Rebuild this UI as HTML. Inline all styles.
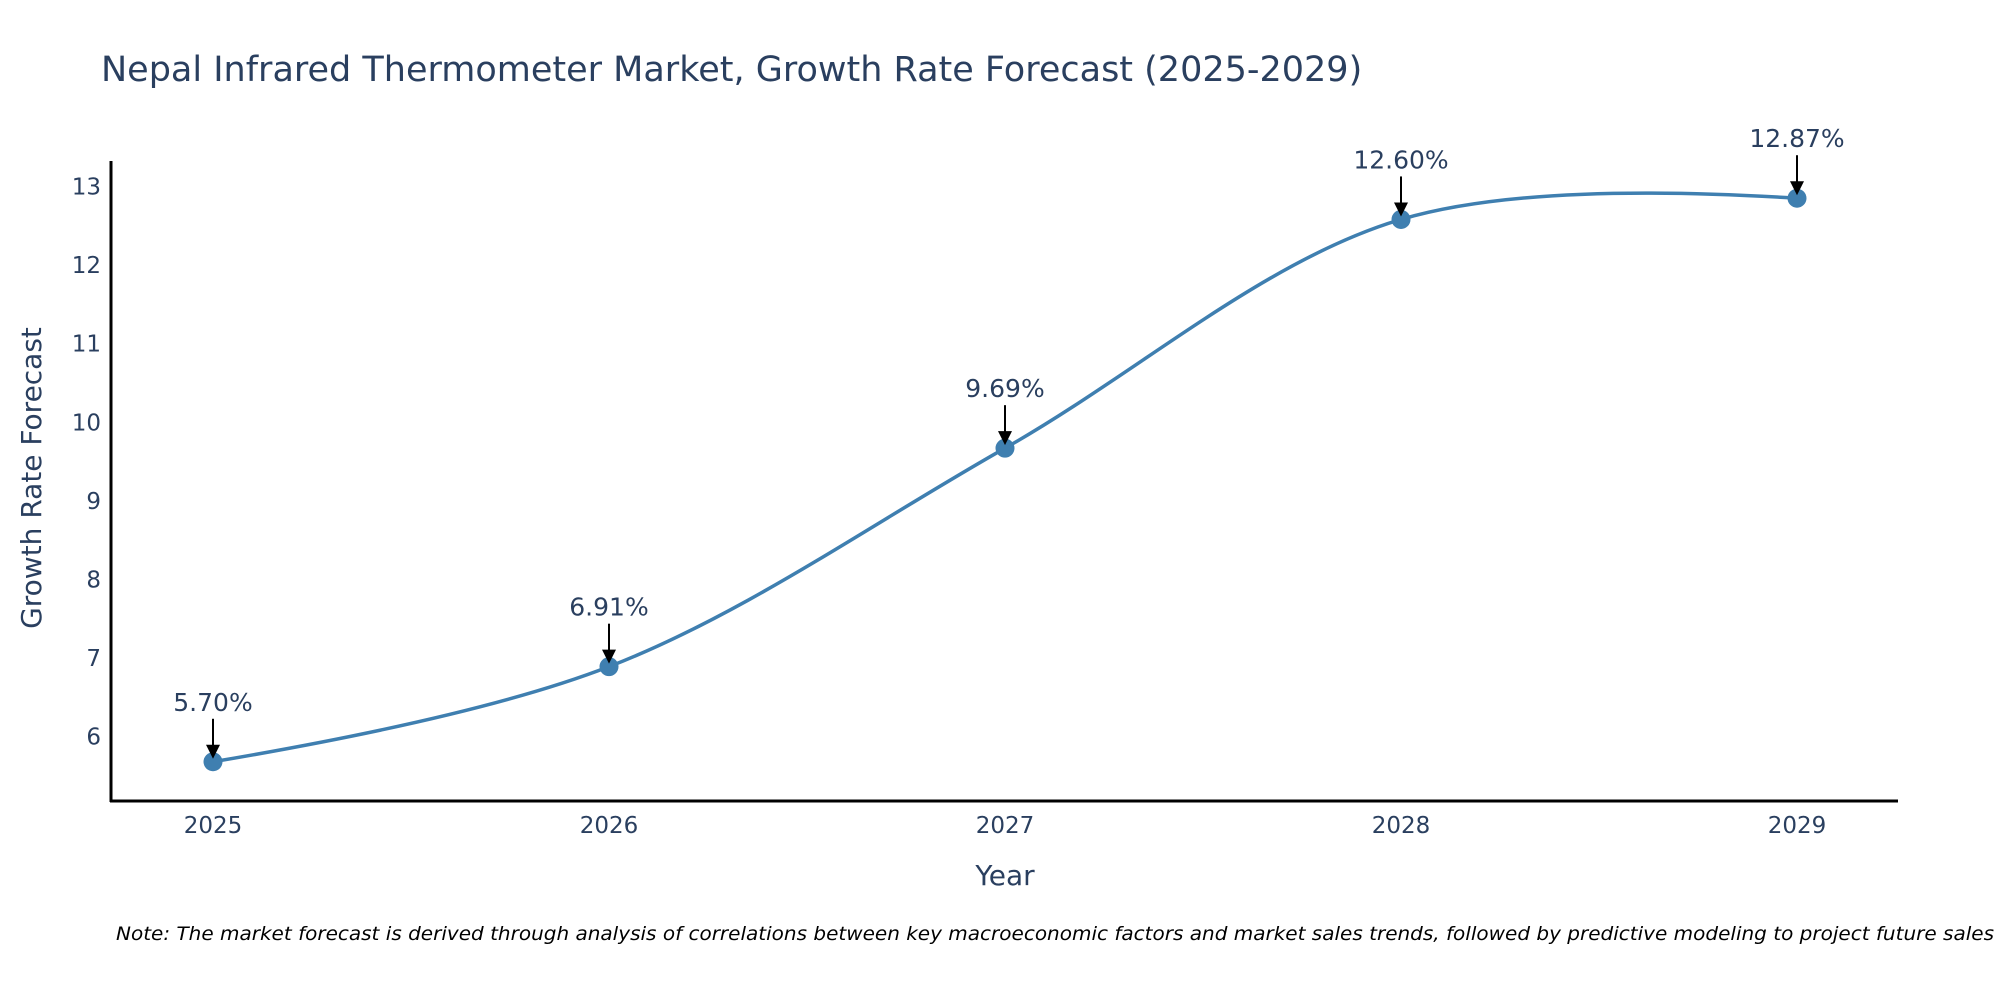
<!DOCTYPE html>
<html><head><meta charset="utf-8"><style>
html,body{margin:0;padding:0;background:#fff;}
svg{display:block;font-family:"DejaVu Sans","Liberation Sans",sans-serif;}
</style></head><body>
<svg id="chart" width="2000" height="1000" viewBox="0 0 2000 1000">
<text x="101" y="81" font-size="35" fill="#2a3f5f">Nepal Infrared Thermometer Market, Growth Rate Forecast (2025-2029)</text>
<g id="axes"></g>
<g id="plot"></g>
<text x="33" y="478" font-size="28" fill="#2a3f5f" text-anchor="middle" dominant-baseline="middle" transform="rotate(-90 33 478)">Growth Rate Forecast</text>
<text x="1005" y="885" font-size="28" fill="#2a3f5f" text-anchor="middle">Year</text>
<text x="116" y="940" font-size="19" font-style="italic" fill="#000" textLength="1878" lengthAdjust="spacingAndGlyphs">Note: The market forecast is derived through analysis of correlations between key macroeconomic factors and market sales trends, followed by predictive modeling to project future sales</text>
</svg>
<script>
const years = [2025, 2026, 2027, 2028, 2029];
const growth = [5.70, 6.91, 9.69, 12.60, 12.87];
const labels = ["5.70%", "6.91%", "9.69%", "12.60%", "12.87%"];
const yTicks = [6, 7, 8, 9, 10, 11, 12, 13];

const NS = "http://www.w3.org/2000/svg";
function X(v){ return 213 + (v - 2025) * 396; }
function Y(v){ return 188 + (13 - v) * 78.6; }
function mk(tag, attrs, parent){ const e = document.createElementNS(NS, tag); for (const k in attrs) e.setAttribute(k, attrs[k]); parent.appendChild(e); return e; }
const axes = document.getElementById('axes'), plot = document.getElementById('plot');

const yAxis = mk('line', {x1:111, y1:161, x2:111, y2:802, stroke:'#000', 'stroke-width':3}, axes);


const xAxis = mk('line', {x1:110, y1:801, x2:1898, y2:801, stroke:'#000', 'stroke-width':3}, axes);



yTicks.forEach(t => {
  const tx = mk('text', {x:101, y:Y(t), 'font-size':23, fill:'#2a3f5f', 'text-anchor':'end', 'dominant-baseline':'middle'}, axes);
  tx.textContent = t;
  
  
});
years.forEach(yr => {
  const tx = mk('text', {x:X(yr), y:833, 'font-size':23, fill:'#2a3f5f', 'text-anchor':'middle'}, axes);
  tx.textContent = yr;
  
  
});

// plotly-style spline
const pts = years.map((y, i) => [X(y), Y(growth[i])]);
function tangent(p, t, n){
  const d1x = p[0]-t[0], d1y = p[1]-t[1], d2x = n[0]-t[0], d2y = n[1]-t[1];
  const d1a = Math.pow(d1x*d1x + d1y*d1y, 0.25), d2a = Math.pow(d2x*d2x + d2y*d2y, 0.25);
  const numx = (d2a*d2a*d1x - d1a*d1a*d2x), numy = (d2a*d2a*d1y - d1a*d1a*d2y);
  const den1 = 3*d2a*(d1a+d2a), den2 = 3*d1a*(d1a+d2a);
  return [[t[0]+numx/den1, t[1]+numy/den1], [t[0]-numx/den2, t[1]-numy/den2]];
}
const tg = [];
for (let i = 1; i < pts.length-1; i++) tg.push(tangent(pts[i-1], pts[i], pts[i+1]));
let d = `M${pts[0]} Q${tg[0][0]} ${pts[1]}`;
for (let i = 2; i < pts.length-1; i++) d += ` C${tg[i-2][1]} ${tg[i-1][0]} ${pts[i]}`;
d += ` Q${tg[tg.length-1][1]} ${pts[pts.length-1]}`;
const line = mk('path', {d:d, fill:'none', stroke:'#3f7fb0', 'stroke-width':3.5}, plot);



pts.forEach((p, i) => {
  const c = mk('circle', {cx:p[0], cy:p[1], r:9.5, fill:'#3f7fb0'}, plot);
  
  
  const ar = mk('line', {x1:p[0], y1:p[1]-43, x2:p[0], y2:p[1]-12, stroke:'#000', 'stroke-width':2}, plot);
  
  
  const head = mk('polygon', {points:`${p[0]-7},${p[1]-17} ${p[0]+7},${p[1]-17} ${p[0]},${p[1]-3}`, fill:'#000'}, plot);
  
  
  const tx = mk('text', {x:p[0], y:p[1]-51, 'font-size':25, fill:'#2a3f5f', 'text-anchor':'middle'}, plot);
  tx.textContent = labels[i];
  
  
});
</script>
</body></html>
